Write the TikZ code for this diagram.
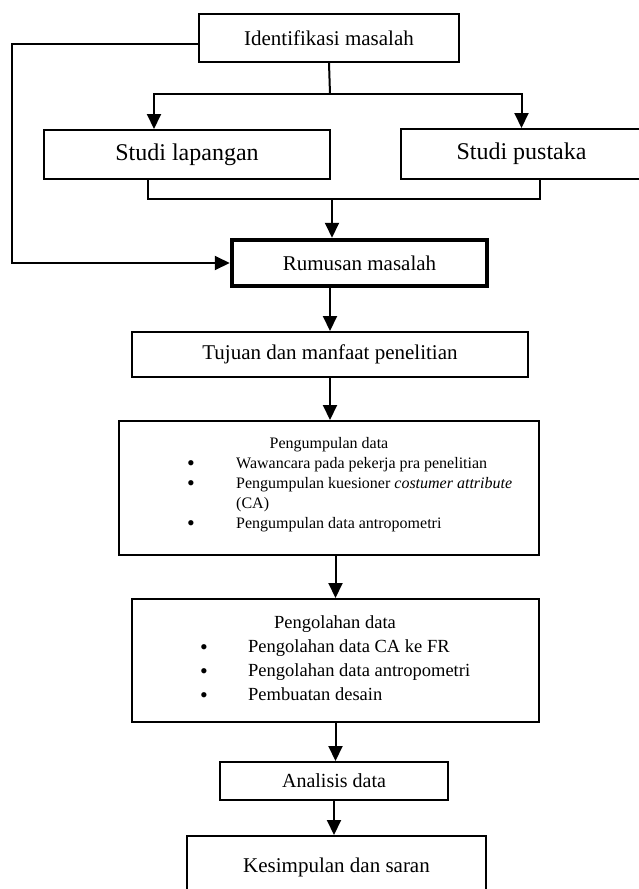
\documentclass[tikz,border=0pt]{standalone}
\usepackage{fontspec}
\setmainfont{Liberation Serif}
\usetikzlibrary{arrows.meta}
\begin{document}
\begin{tikzpicture}[x=1pt,y=-1pt]
\tikzstyle{every node}+=[inner sep=0pt]
\tikzstyle{kotak}=[draw, line width=2pt, font=\fontsize{21}{25}\selectfont]
\tikzstyle{garis}=[line width=2pt]
\tikzstyle{panah}=[line width=2pt, -{Triangle[width=14pt,length=15pt]}]
\tikzstyle{isikecil}=[font=\fontsize{16}{20}\selectfont]
\tikzstyle{isisedang}=[font=\fontsize{18.5}{24}\selectfont]
\tikzstyle{titik}=[font=\fontsize{22}{24}\selectfont]
\useasboundingbox (0,0) rectangle (639,889);
% kotak-kotak
\node [kotak, minimum width=260pt, minimum height=48pt] (ident) at (329,38) {Identifikasi masalah};
\node [kotak, minimum width=286pt, minimum height=49pt, font=\fontsize{24}{28}\selectfont] (lap) at (187,154.5) {Studi lapangan};
\node [kotak, minimum width=241pt, minimum height=50pt, font=\fontsize{24}{28}\selectfont] (pus) at (521.5,154) {Studi pustaka};
\node [kotak, line width=4.5pt, minimum width=255pt, minimum height=46pt] (rum) at (359.5,263) {Rumusan masalah};
\node [kotak, minimum width=396pt, minimum height=45pt] (tuj) at (330,354.5) {Tujuan dan manfaat penelitian};
\node [kotak, minimum width=420pt, minimum height=134pt] (kumpul) at (329,488) {};
\node [kotak, minimum width=407pt, minimum height=123pt] (olah) at (335.5,660.5) {};
\node [kotak, minimum width=228pt, minimum height=38pt, font=\fontsize{20}{24}\selectfont] (analisis) at (334,781) {Analisis data};
\node [kotak, minimum width=299pt, minimum height=62pt] (simpul) at (336.5,867) {Kesimpulan dan saran};
% isi pengumpulan data
\node [isikecil, anchor=base] (kumpul0) at (329,448) {Pengumpulan data};
\node [titik, anchor=base] (butir1) at (191,470) {\textbullet};
\node [isikecil, anchor=base west] (kumpul1) at (236,468) {Wawancara pada pekerja pra penelitian};
\node [titik, anchor=base] (butir2) at (191,490) {\textbullet};
\node [isikecil, anchor=base west] (kumpul2) at (236,488) {Pengumpulan kuesioner \textit{costumer attribute}};
\node [isikecil, anchor=base west] (kumpul3) at (236,508) {(CA)};
\node [titik, anchor=base] (butir3) at (191,530) {\textbullet};
\node [isikecil, anchor=base west] (kumpul4) at (236,528) {Pengumpulan data antropometri};
% isi pengolahan data
\node [isisedang, anchor=base] (olah0) at (335,628) {Pengolahan data};
\node [titik, anchor=base] (butir4) at (204,654) {\textbullet};
\node [isisedang, anchor=base west] (olah1) at (248,652) {Pengolahan data CA ke FR};
\node [titik, anchor=base] (butir5) at (204,678) {\textbullet};
\node [isisedang, anchor=base west] (olah2) at (248,676) {Pengolahan data antropometri};
\node [titik, anchor=base] (butir6) at (204,702) {\textbullet};
\node [isisedang, anchor=base west] (olah3) at (248,700) {Pembuatan desain};
% titik bantu
\coordinate (cabang) at (330,94);
\coordinate (gabung) at (332,198.5);
\coordinate (kiri) at (12,263);
% panah
\draw [garis] (ident.south) -- (cabang);
\draw [panah] (cabang) -| ([xshift=-33pt]lap.north);
\draw [panah] (cabang) -| (pus.north);
\draw [garis] ([xshift=-39pt]lap.south) |- (gabung) -| ([xshift=18pt]pus.south);
\draw [panah] (gabung) -- (gabung |- rum.north);
\draw [panah] ([yshift=-6pt]ident.west) -| (kiri) -- (rum.west);
\draw [panah] (tuj.north |- rum.south) -- (tuj.north);
\draw [panah] (tuj.south) -- (tuj.south |- kumpul.north);
\draw [panah] (olah.north |- kumpul.south) -- (olah.north);
\draw [panah] (olah.south) -- (olah.south |- analisis.north);
\draw [panah] (analisis.south) -- (analisis.south |- simpul.north);
\end{tikzpicture}
\end{document}
